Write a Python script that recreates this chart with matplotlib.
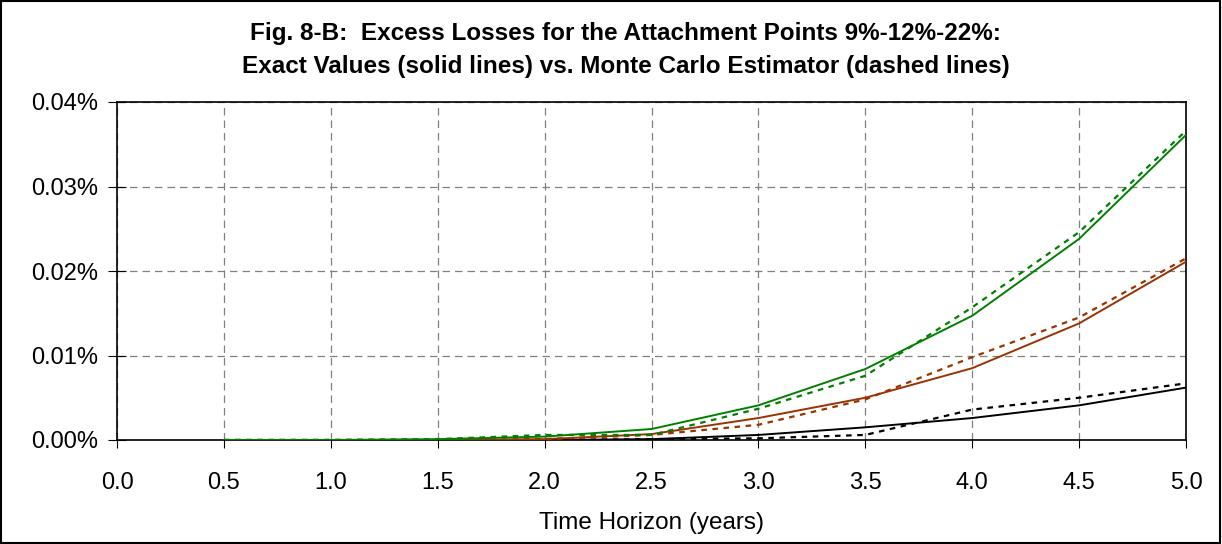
import matplotlib
matplotlib.use("Agg")
import matplotlib.pyplot as plt
from matplotlib.ticker import FuncFormatter, MultipleLocator
from matplotlib.patches import Rectangle

plt.rcParams['font.family'] = ['Liberation Sans', 'DejaVu Sans']

# Data (values in percent)
years = [0.5, 1.0, 1.5, 2.0, 2.5, 3.0, 3.5, 4.0, 4.5, 5.0]
exact_9 = [0.0, 0.0, 0.0, 0.0, 0.0001, 0.0006, 0.0015, 0.0026, 0.0041, 0.0062]
mc_9 = [0.0, 0.0, 0.0, 0.0, 0.0001, 0.0002, 0.0006, 0.0036, 0.0050, 0.0067]
exact_12 = [0.0, 0.0, 0.0, 0.0001, 0.0007, 0.0026, 0.0050, 0.0085, 0.0138, 0.0211]
mc_12 = [0.0, 0.0, 0.0, 0.0001, 0.0006, 0.0018, 0.0048, 0.0098, 0.0145, 0.0215]
exact_22 = [0.0, 0.0, 0.0001, 0.0004, 0.0013, 0.0041, 0.0084, 0.0147, 0.0238, 0.0361]
mc_22 = [0.0, 0.0, 0.0001, 0.0006, 0.0006, 0.0037, 0.0076, 0.0157, 0.0246, 0.0366]

title = ("Fig. 8-B:  Excess Losses for the Attachment Points 9%-12%-22%:\n"
         "Exact Values (solid lines) vs. Monte Carlo Estimator (dashed lines)")
xlabel = "Time Horizon (years)"

c_black = "#000000"
c_brown = "#993300"
c_green = "#008000"

fig = plt.figure(figsize=(12.22, 5.44), dpi=100)
ax = fig.add_axes([117/1222, 1-440/544, (1186-117)/1222, (440-102)/544])

dash = (0, (2.5, 2.5))
ax.plot(years, exact_9, color=c_black, lw=1.4, zorder=3)
ax.plot(years, mc_9, color=c_black, lw=1.6, linestyle=dash, zorder=3)
ax.plot(years, exact_12, color=c_brown, lw=1.4, zorder=3)
ax.plot(years, mc_12, color=c_brown, lw=1.6, linestyle=dash, zorder=3)
ax.plot(years, exact_22, color=c_green, lw=1.4, zorder=3)
ax.plot(years, mc_22, color=c_green, lw=1.6, linestyle=dash, zorder=3)

ax.set_xlim(0, 5)
ax.set_ylim(0, 0.04)
ax.xaxis.set_major_locator(MultipleLocator(0.5))
ax.yaxis.set_major_locator(MultipleLocator(0.01))
ax.xaxis.set_major_formatter(FuncFormatter(lambda v, p: f"{v:.1f}"))
ax.yaxis.set_major_formatter(FuncFormatter(lambda v, p: f"{v:.2f}%"))
ax.grid(True, color="#808080", linestyle=(0, (6, 4)), linewidth=0.9, zorder=1)
ax.tick_params(axis='x', direction='out', length=6, labelsize=17, pad=17, color='black')
ax.tick_params(axis='y', direction='inout', length=13, labelsize=17, pad=7, color='black')
for s in ['left', 'bottom', 'top', 'right']:
    ax.spines[s].set_linewidth(1.2)
ax.set_xlabel(xlabel, fontsize=17.5, labelpad=13)

fig.text(0.512, 1-50/544, title, ha='center', va='center', fontsize=17.5,
         fontweight='bold', linespacing=1.6)

fig.patches.append(Rectangle((0.001, 0.002), 0.997, 0.996, transform=fig.transFigure,
                             fill=False, edgecolor='black', linewidth=1.5))

fig.savefig("out.png", dpi=100)
